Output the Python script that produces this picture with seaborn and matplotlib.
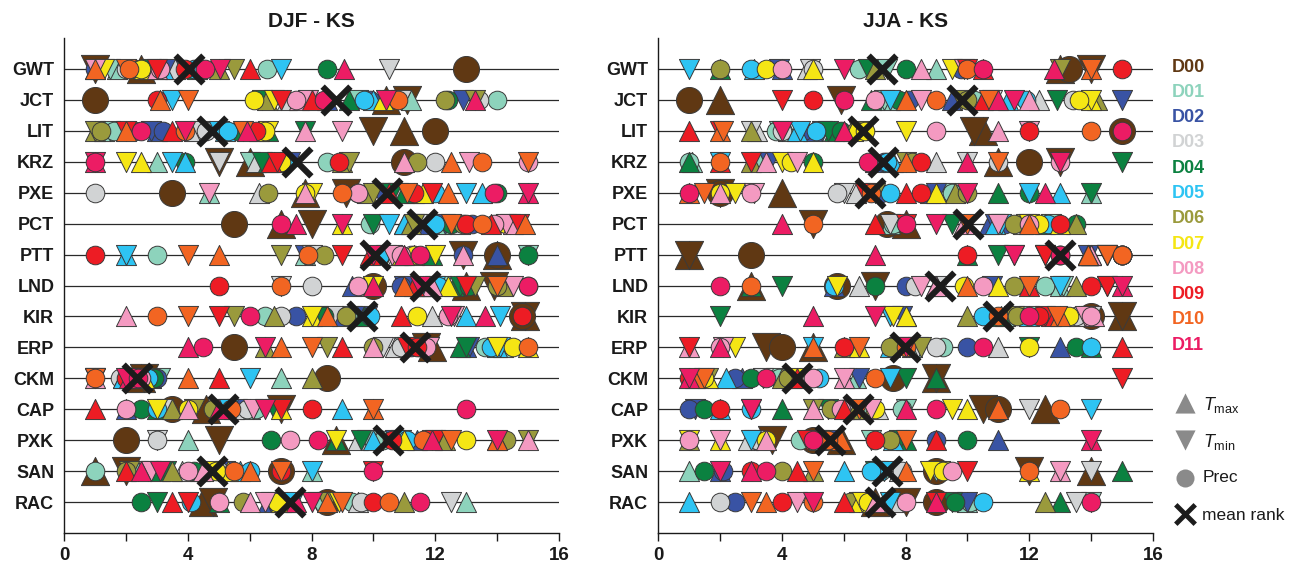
import matplotlib
matplotlib.use("Agg")
import matplotlib.pyplot as plt
import pandas as pd
import seaborn as sns

# ---------------------------------------------------------------------------
# Models (rows), reference datasets and their colours
# ---------------------------------------------------------------------------
MODELS = ["GWT", "JCT", "LIT", "KRZ", "PXE", "PCT", "PTT", "LND",
          "KIR", "ERP", "CKM", "CAP", "PXK", "SAN", "RAC"]
DATASETS = ["D00", "D01", "D02", "D03", "D04", "D05",
            "D06", "D07", "D08", "D09", "D10", "D11"]
COLORS = ["#603813", "#8DD3BC", "#3953A4", "#D1D3D4", "#0B8140", "#2EC4F3",
          "#9A9A3C", "#F5E614", "#F49AC1", "#ED1C24", "#F26522", "#EC1C64"]

# ---------------------------------------------------------------------------
# KS ranks, one row per model, one column per dataset D00..D11
# ---------------------------------------------------------------------------
DJF_TMAX = [
    [2.5, 1.7, 1.0, 3.6, 4.3, 3.2, 5.0, 2.6, 3.0, 6.0, 1.0, 9.05],
    [10.4, 11.2, 8.5, 7.2, 9.2, 10.0, 6.55, 10.3, 7.6, 8.0, 3.1, 13.3],
    [11.0, 1.3, 3.0, 4.2, 6.6, 5.2, 1.0, 6.3, 7.8, 3.5, 2.0, 5.9],
    [6.0, 3.0, 6.8, 6.2, 6.6, 3.9, 9.0, 2.5, 11.0, 6.7, 12.5, 1.0],
    [7.8, 4.7, 11.3, 6.3, 11.0, 13.5, 9.8, 11.6, 7.8, 10.5, 12.4, 15.0],
    [7.0, 12.2, 11.8, 12.8, 11.0, 11.0, 11.2, 9.0, 14.5, 13.8, 14.9, 7.5],
    [14.0, 7.8, 14.0, 10.8, 11.9, 2.0, 11.3, 10.9, 12.9, 9.9, 5.0, 11.0],
    [13.0, 11.6, 9.3, 11.8, 12.6, 11.5, 14.2, 12.4, 11.9, 11.3, 11.0, 10.0],
    [14.9, 9.5, 9.0, 11.9, 9.7, 13.0, 6.8, 8.0, 2.0, 10.9, 8.5, 13.6],
    [11.9, 14.2, 13.0, 10.7, 12.8, 14.0, 6.5, 15.0, 10.0, 9.0, 7.0, 4.0],
    [2.5, 7.0, 2.8, 2.1, 1.9, 1.9, 8.0, 2.6, 1.0, 5.0, 4.0, 2.1],
    [4.6, 6.0, 2.0, 5.5, 3.0, 9.0, 3.5, 7.0, 4.0, 1.0, 10.0, 5.0],
    [8.8, 4.0, 11.4, 9.5, 8.8, 10.0, 12.3, 11.0, 15.0, 14.0, 14.0, 11.9],
    [1.0, 8.0, 4.4, 3.8, 3.1, 5.7, 3.5, 5.3, 4.5, 2.0, 6.0, 2.5],
    [4.5, 13.0, 6.6, 9.5, 5.0, 7.2, 11.0, 7.0, 6.0, 3.5, 8.5, 7.5],
]
DJF_TMIN = [
    [1.0, 1.5, 3.4, 10.5, 2.8, 7.0, 5.5, 1.3, 1.0, 3.0, 2.0, 5.05],
    [11.1, 9.5, 12.9, 10.9, 6.4, 3.5, 13.3, 6.8, 7.9, 7.0, 4.0, 10.4],
    [10.0, 1.5, 2.8, 4.4, 7.8, 5.0, 1.0, 6.6, 9.0, 2.0, 5.8, 3.9],
    [5.0, 6.0, 7.3, 5.0, 6.4, 3.5, 9.2, 2.0, 13.1, 6.9, 15.0, 1.0],
    [9.1, 10.3, 10.2, 10.8, 10.6, 13.0, 10.0, 8.0, 4.7, 11.9, 11.1, 15.0],
    [8.0, 11.6, 12.3, 11.4, 10.0, 10.5, 11.3, 14.4, 14.3, 14.7, 12.5, 9.0],
    [12.9, 15.0, 7.8, 8.0, 10.4, 2.0, 7.0, 12.0, 10.6, 9.0, 4.0, 10.0],
    [13.9, 12.2, 11.0, 7.0, 12.8, 12.0, 13.3, 10.0, 14.5, 13.0, 14.0, 11.5],
    [14.9, 9.3, 9.8, 8.7, 8.2, 14.1, 5.5, 8.0, 12.6, 5.0, 4.0, 12.5],
    [11.7, 11.0, 13.1, 10.3, 13.0, 14.1, 8.5, 14.0, 11.8, 11.1, 8.0, 6.5],
    [2.6, 3.1, 2.4, 2.6, 2.3, 6.0, 1.0, 2.1, 1.0, 2.3, 1.0, 2.0],
    [7.0, 5.2, 5.6, 3.2, 6.8, 5.3, 4.2, 3.0, 6.1, 7.0, 10.0, 6.5],
    [5.0, 9.8, 10.7, 3.0, 9.6, 10.9, 15.0, 8.8, 11.9, 12.0, 12.5, 14.0],
    [2.0, 2.4, 5.2, 2.7, 3.3, 8.0, 2.1, 4.8, 2.8, 10.0, 7.0, 3.1],
    [4.8, 8.2, 6.7, 12.5, 3.0, 7.4, 8.5, 8.9, 6.5, 4.0, 9.0, 8.0],
]
DJF_PREC = [
    [13.0, 6.55, 1.0, 2.0, 8.5, 4.2, 2.3, 2.5, 3.1, 3.9, 2.1, 4.55],
    [1.0, 14.0, 9.9, 13.4, 12.4, 9.7, 12.3, 6.15, 7.5, 3.0, 10.8, 8.4],
    [12.0, 1.6, 3.2, 4.6, 5.6, 5.3, 1.2, 6.5, 2.3, 6.2, 3.9, 2.5],
    [11.0, 8.5, 7.0, 12.0, 3.9, 7.1, 11.4, 7.0, 15.0, 8.9, 13.5, 1.0],
    [3.5, 10.6, 9.5, 1.0, 14.0, 12.0, 6.6, 7.8, 9.5, 11.3, 9.0, 13.9],
    [5.5, 9.9, 13.2, 14.0, 12.5, 12.0, 12.9, 14.3, 13.9, 13.0, 13.5, 7.0],
    [14.0, 3.0, 12.9, 11.2, 15.0, 10.2, 8.4, 11.3, 10.9, 1.0, 7.9, 11.5],
    [10.0, 11.4, 10.9, 8.0, 13.1, 12.1, 14.0, 15.0, 9.5, 5.0, 7.0, 15.0],
    [14.8, 6.5, 7.5, 7.0, 8.4, 9.9, 9.1, 11.4, 12.4, 14.8, 3.0, 6.0],
    [5.5, 13.6, 11.2, 10.9, 11.5, 13.8, 10.0, 14.5, 11.7, 11.4, 15.0, 4.5],
    [8.5, 2.2, 3.0, 1.8, 2.9, 2.7, 2.2, 2.4, 2.5, 2.0, 1.0, 2.4],
    [3.5, 6.2, 4.9, 5.9, 2.5, 3.0, 4.8, 4.0, 2.0, 8.0, 5.4, 13.0],
    [2.0, 10.3, 12.2, 3.0, 6.7, 11.1, 14.3, 13.0, 7.3, 10.6, 11.6, 8.2],
    [7.0, 1.0, 4.6, 5.0, 4.2, 6.0, 2.0, 4.9, 4.0, 7.0, 5.5, 10.0],
    [8.5, 9.3, 6.9, 9.6, 2.5, 4.1, 5.8, 6.9, 5.0, 10.0, 10.5, 11.5],
]
DJF_MEAN = [4.05, 8.8, 4.77, 7.52, 10.43, 11.56, 10.05, 11.67,
            9.62, 11.35, 2.35, 5.15, 10.48, 4.77, 7.3]

JJA_TMAX = [
    [13.0, 9.0, 4.0, 4.8, 2.0, 3.1, 7.0, 5.0, 8.5, 10.5, 14.0, 12.8],
    [2.0, 7.5, 9.5, 12.3, 6.9, 11.3, 14.2, 14.0, 12.0, 10.5, 8.0, 11.0],
    [10.5, 4.2, 5.0, 3.2, 5.7, 4.5, 3.0, 6.3, 11.0, 1.0, 2.0, 6.0],
    [11.0, 1.1, 7.0, 9.0, 1.0, 7.6, 3.0, 5.0, 3.5, 2.0, 8.0, 10.0],
    [4.0, 14.0, 8.8, 6.4, 11.0, 13.0, 9.6, 9.0, 2.0, 8.0, 1.0, 12.5],
    [8.0, 7.5, 10.7, 11.8, 12.5, 10.9, 13.5, 13.0, 9.9, 7.0, 12.0, 4.0],
    [1.0, 13.9, 13.9, 14.0, 10.0, 13.9, 14.0, 13.9, 14.0, 13.9, 13.9, 7.0],
    [3.0, 13.0, 5.7, 6.5, 3.0, 9.0, 13.5, 11.0, 9.0, 12.0, 10.0, 15.0],
    [15.0, 11.2, 8.0, 13.6, 11.1, 12.0, 10.0, 8.0, 14.1, 12.7, 13.0, 5.0],
    [5.0, 8.2, 13.0, 11.0, 14.0, 7.5, 6.0, 6.5, 1.0, 15.0, 5.0, 2.0],
    [9.0, 6.4, 2.7, 4.3, 9.0, 2.2, 4.0, 1.6, 6.0, 4.5, 1.2, 1.0],
    [12.5, 6.6, 6.2, 7.1, 4.0, 2.0, 6.4, 10.0, 5.0, 6.0, 11.0, 8.0],
    [5.9, 5.2, 11.0, 2.9, 8.0, 7.6, 1.0, 2.0, 3.5, 9.0, 5.9, 14.0],
    [14.0, 1.0, 2.0, 7.8, 15.0, 6.0, 5.0, 12.0, 13.0, 4.5, 8.0, 3.0],
    [7.0, 10.0, 7.3, 7.6, 13.0, 1.0, 12.5, 6.5, 7.0, 6.0, 3.5, 9.0],
]
JJA_TMIN = [
    [14.0, 7.4, 3.9, 4.9, 6.8, 1.0, 13.0, 9.5, 9.9, 10.0, 14.0, 6.0],
    [5.9, 7.3, 15.0, 10.8, 12.9, 7.5, 9.8, 14.0, 8.5, 4.0, 10.7, 11.5],
    [10.2, 3.9, 5.3, 3.0, 5.5, 4.6, 6.5, 8.0, 12.0, 2.0, 2.1, 4.0],
    [13.0, 3.3, 3.6, 10.0, 15.0, 2.0, 8.0, 4.0, 4.5, 3.0, 11.0, 13.0],
    [2.0, 9.3, 9.0, 6.0, 14.0, 12.0, 7.0, 2.5, 3.1, 6.7, 1.5, 10.0],
    [5.0, 12.7, 10.9, 7.5, 9.5, 11.1, 11.9, 12.0, 11.0, 8.0, 10.0, 9.0],
    [1.0, 12.5, 13.9, 14.5, 11.0, 14.5, 14.5, 12.5, 11.5, 12.5, 14.5, 11.5],
    [7.0, 13.1, 10.8, 9.1, 4.0, 13.0, 14.5, 5.8, 8.5, 14.5, 12.0, 15.0],
    [15.0, 12.0, 7.9, 14.0, 2.0, 7.5, 11.5, 7.6, 13.8, 12.5, 12.9, 7.0],
    [3.5, 7.8, 8.1, 8.4, 12.0, 5.0, 8.5, 2.5, 2.1, 1.0, 6.5, 8.0],
    [9.0, 3.8, 6.5, 3.4, 8.0, 7.5, 1.6, 4.5, 6.0, 15.0, 1.5, 1.0],
    [10.5, 8.0, 1.2, 12.0, 5.5, 14.0, 5.0, 9.5, 6.9, 3.0, 6.5, 3.0],
    [3.7, 6.9, 5.6, 3.1, 7.8, 3.0, 5.2, 1.0, 2.0, 4.8, 8.0, 14.0],
    [12.0, 9.0, 7.1, 14.0, 7.0, 7.3, 9.1, 8.8, 13.0, 10.0, 5.0, 2.0],
    [8.0, 14.0, 10.0, 13.5, 9.5, 7.5, 6.5, 6.6, 4.5, 9.0, 3.0, 5.0],
]
JJA_PREC = [
    [13.3, 6.5, 9.8, 5.0, 8.0, 3.0, 2.0, 3.5, 4.0, 15.0, 10.0, 10.5],
    [1.0, 10.2, 8.1, 13.4, 7.8, 11.9, 10.0, 13.6, 7.0, 5.0, 9.0, 6.0],
    [15.0, 3.8, 4.7, 4.0, 5.9, 5.1, 6.4, 6.7, 9.0, 12.0, 14.0, 15.0],
    [12.0, 1.0, 7.3, 11.0, 5.0, 7.4, 8.2, 4.3, 13.0, 8.5, 2.0, 6.8],
    [2.0, 9.5, 7.2, 5.8, 12.0, 7.5, 10.0, 2.0, 3.0, 8.5, 6.9, 1.0],
    [7.4, 7.6, 11.2, 12.1, 13.5, 12.6, 11.5, 12.3, 12.0, 13.0, 5.0, 8.0],
    [3.0, 15.0, 15.0, 15.0, 15.0, 13.0, 15.0, 13.0, 15.0, 10.0, 15.0, 13.0],
    [5.8, 12.5, 8.0, 8.3, 7.0, 5.7, 11.5, 9.9, 10.5, 14.0, 3.0, 2.0],
    [14.0, 13.2, 12.4, 13.5, 12.6, 10.5, 11.6, 13.3, 14.0, 12.3, 11.0, 12.0],
    [4.0, 9.2, 10.0, 9.0, 13.5, 14.0, 7.5, 12.0, 2.0, 6.0, 8.0, 10.5],
    [7.6, 3.9, 2.5, 4.6, 3.0, 5.2, 4.2, 1.5, 5.0, 1.0, 7.0, 3.5],
    [11.0, 7.9, 1.0, 6.0, 1.5, 3.0, 5.6, 7.0, 5.9, 2.0, 13.0, 9.0],
    [5.0, 4.6, 9.0, 3.2, 10.0, 5.4, 7.5, 3.5, 1.0, 7.0, 5.5, 5.0],
    [9.0, 7.2, 2.1, 7.9, 1.5, 6.9, 4.0, 9.2, 9.5, 3.0, 12.0, 3.5],
    [9.0, 10.1, 2.5, 2.0, 9.6, 10.5, 6.2, 6.8, 8.0, 4.0, 5.0, 14.0],
]
JJA_MEAN = [7.25, 9.82, 6.64, 7.28, 6.85, 10.03, 13.0, 9.12,
            11.0, 7.98, 4.48, 6.48, 5.56, 7.39, 7.18]

VARIABLES = ["Tmax", "Tmin", "Prec"]


def long_table(tmax, tmin, prec):
    records = []
    for var, table in zip(VARIABLES, (tmax, tmin, prec)):
        for i, model in enumerate(MODELS):
            for j, ds in enumerate(DATASETS):
                records.append({"model": model, "row": i + 1, "dataset": ds,
                                "var": var, "rank": table[i][j]})
    return pd.DataFrame(records)


# ---------------------------------------------------------------------------
# Styling
# ---------------------------------------------------------------------------
sns.set_theme(style="white")
plt.rcParams["font.family"] = ["Liberation Sans", "DejaVu Sans"]
plt.rcParams["mathtext.fontset"] = "custom"
plt.rcParams["mathtext.rm"] = "Liberation Sans"
plt.rcParams["mathtext.it"] = "Liberation Sans:italic"

MARKERS = {"Tmax": "^", "Tmin": "v", "Prec": "o"}
MSIZE = {"Tmax": 14.5, "Tmin": 14.5, "Prec": 13.4}   # points
EDGE = "#3a3a3a"

W, H = 1306, 570
fig = plt.figure(figsize=(W / 100, H / 100), dpi=100)

panels = [
    ("DJF - KS", long_table(DJF_TMAX, DJF_TMIN, DJF_PREC), DJF_MEAN, 64),
    ("JJA - KS", long_table(JJA_TMAX, JJA_TMIN, JJA_PREC), JJA_MEAN, 658),
]
rows = list(range(1, len(MODELS) + 1))

for title, df, means, left_px in panels:
    ax = fig.add_axes([left_px / W, 37 / H, 495 / W, 495 / H])
    ax.hlines(rows, 0, 16, color="#2a2a2a", lw=0.9, zorder=0)

    for j, ds in enumerate(DATASETS):
        scale = 1.4 if j == 0 else 1.0
        for var in VARIABLES:
            sub = df[(df["dataset"] == ds) & (df["var"] == var)]
            sns.scatterplot(data=sub, x="rank", y="row", ax=ax,
                            marker=MARKERS[var], s=(MSIZE[var] * scale) ** 2,
                            color=COLORS[j], edgecolor=EDGE, linewidth=0.7,
                            legend=False, zorder=2, clip_on=False)

    sns.scatterplot(x=means, y=rows, ax=ax, marker="x", s=20 ** 2,
                    color="#1c1c1c", linewidth=4.4, legend=False,
                    zorder=3, clip_on=False)

    ax.set_xlim(0, 16)
    ax.set_ylim(16, 0)
    ax.set_xticks(range(0, 17, 2))
    ax.set_xticklabels([str(v) if v % 4 == 0 else "" for v in range(0, 17, 2)],
                       fontweight="bold", fontsize=13.5)
    ax.set_yticks(rows)
    ax.set_yticklabels(MODELS, fontweight="bold", fontsize=13)
    ax.tick_params(axis="y", length=0, pad=7, colors="#1a1a1a")
    ax.tick_params(axis="x", length=6, width=1, direction="out", pad=4,
                   colors="#1a1a1a", bottom=True)
    ax.set_xlabel("")
    ax.set_ylabel("")
    for side in ("top", "right"):
        ax.spines[side].set_visible(False)
    for side in ("left", "bottom"):
        ax.spines[side].set_color("#1a1a1a")
        ax.spines[side].set_linewidth(1.0)
    ax.set_title(title, fontweight="bold", fontsize=15, pad=8, color="#1a1a1a")

# ---------------------------------------------------------------------------
# Legends: dataset colours and symbol meanings
# ---------------------------------------------------------------------------
lax = fig.add_axes([0, 0, 1, 1])
lax.set_xlim(0, W)
lax.set_ylim(H, 0)
lax.axis("off")

for j, ds in enumerate(DATASETS):
    lax.text(1172, 67 + j * 25.3, ds, color=COLORS[j], fontsize=13,
             fontweight="bold", va="center", ha="left")

GRAY = "#8a8a8a"
lax.scatter([1185], [403], marker="^", s=14.5 ** 2, color=GRAY, lw=0)
lax.scatter([1185], [440], marker="v", s=14.5 ** 2, color=GRAY, lw=0)
lax.scatter([1185], [478], marker="o", s=13 ** 2, color=GRAY, lw=0)
lax.scatter([1185], [514], marker="x", s=14 ** 2, color="#1c1c1c", lw=3.5)
lax.text(1203, 405, r"$T_{\mathrm{max}}$", fontsize=13, va="center", color="#1a1a1a")
lax.text(1203, 442, r"$T_{\mathrm{min}}$", fontsize=13, va="center", color="#1a1a1a")
lax.text(1203, 478, "Prec", fontsize=12.5, va="center", color="#1a1a1a")
lax.text(1202, 515, "mean rank", fontsize=12.5, va="center", color="#1a1a1a")

fig.savefig("out.png", dpi=100)
